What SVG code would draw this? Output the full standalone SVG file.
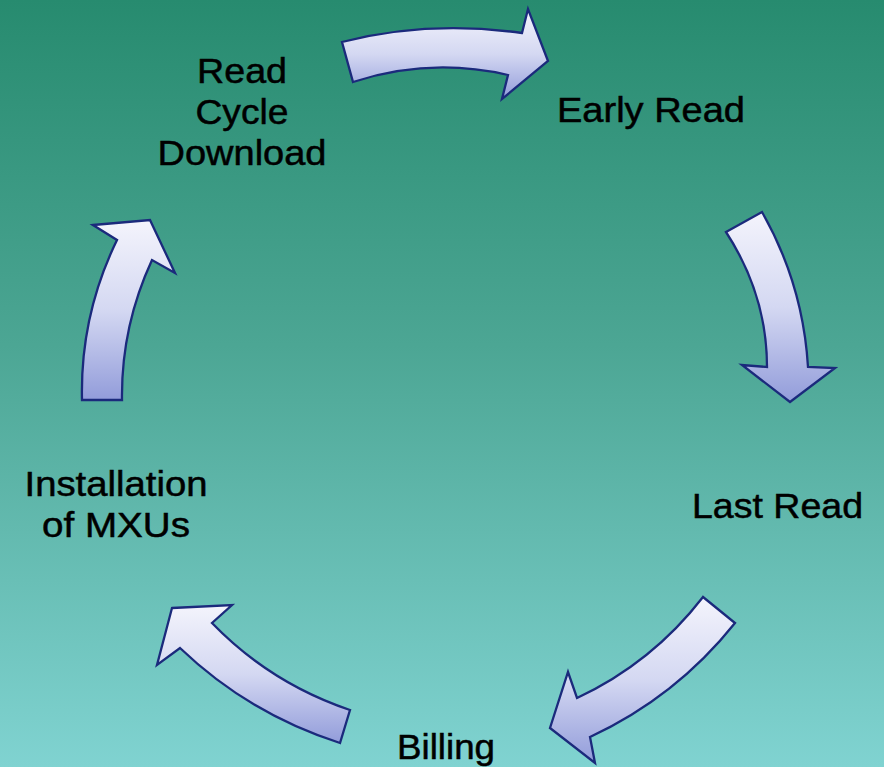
<svg xmlns="http://www.w3.org/2000/svg" width="884" height="767" viewBox="0 0 884 767">
<defs>
<linearGradient id="bg" x1="0" y1="0" x2="0" y2="1">
<stop offset="0" stop-color="#278b6f"/>
<stop offset="0.45" stop-color="#4ca694"/>
<stop offset="1" stop-color="#80d3d1"/>
</linearGradient>
<linearGradient id="af" x1="0" y1="0" x2="0" y2="1">
<stop offset="0" stop-color="#f4f4fc"/>
<stop offset="0.5" stop-color="#d4d8f2"/>
<stop offset="1" stop-color="#929cda"/>
</linearGradient>
<style>
.arrow{fill:url(#af);stroke:#1b2a7c;stroke-width:2.3;stroke-linejoin:miter}
.lbl{font-family:"Liberation Sans",Arial,sans-serif;font-size:35px;fill:#000;stroke:#000;stroke-width:0.5}
</style>
</defs>
<rect width="884" height="767" fill="url(#bg)"/>
<g id="connectors">
<path class="arrow" d="M342,42 Q428,20 522,33 L528,9 L548,61 L502,99 L508,75 Q430,57 353,82 Z"/>
<path class="arrow" d="M726,232 L762,212 Q803,284 808,367 L835,368 L790,402 L742,365 L767,367 Q767,295 726,232 Z"/>
<path class="arrow" d="M703,597 L735,623 Q676,697 590,737 L595,763 L550,728 L568,672 L577,698 Q652,663 703,597 Z"/>
<path class="arrow" d="M172,608 L232,605 L212,623 Q270,683 350,710 L340,743 Q249,714 180,648 L157,665 Z"/>
<path class="arrow" d="M93,225 L150,220 L175,273 L152,260 Q121,327 122,400 L82,400 Q80,316 117,240 Z"/>
</g>
<g id="node-read-cycle">
<text class="lbl" x="242" y="83" text-anchor="middle" textLength="90" lengthAdjust="spacingAndGlyphs">Read</text>
<text class="lbl" x="242" y="124" text-anchor="middle" textLength="93" lengthAdjust="spacingAndGlyphs">Cycle</text>
<text class="lbl" x="242" y="165" text-anchor="middle" textLength="169" lengthAdjust="spacingAndGlyphs">Download</text>
</g>
<g id="node-early-read">
<text class="lbl" x="557" y="122" textLength="188" lengthAdjust="spacingAndGlyphs">Early Read</text>
</g>
<g id="node-last-read">
<text class="lbl" x="692" y="518" textLength="171" lengthAdjust="spacingAndGlyphs">Last Read</text>
</g>
<g id="node-billing">
<text class="lbl" x="446" y="759" text-anchor="middle" textLength="98" lengthAdjust="spacingAndGlyphs">Billing</text>
</g>
<g id="node-installation">
<text class="lbl" x="116" y="496" text-anchor="middle" textLength="183" lengthAdjust="spacingAndGlyphs">Installation</text>
<text class="lbl" x="116" y="537" text-anchor="middle" textLength="148" lengthAdjust="spacingAndGlyphs">of MXUs</text>
</g>
</svg>
